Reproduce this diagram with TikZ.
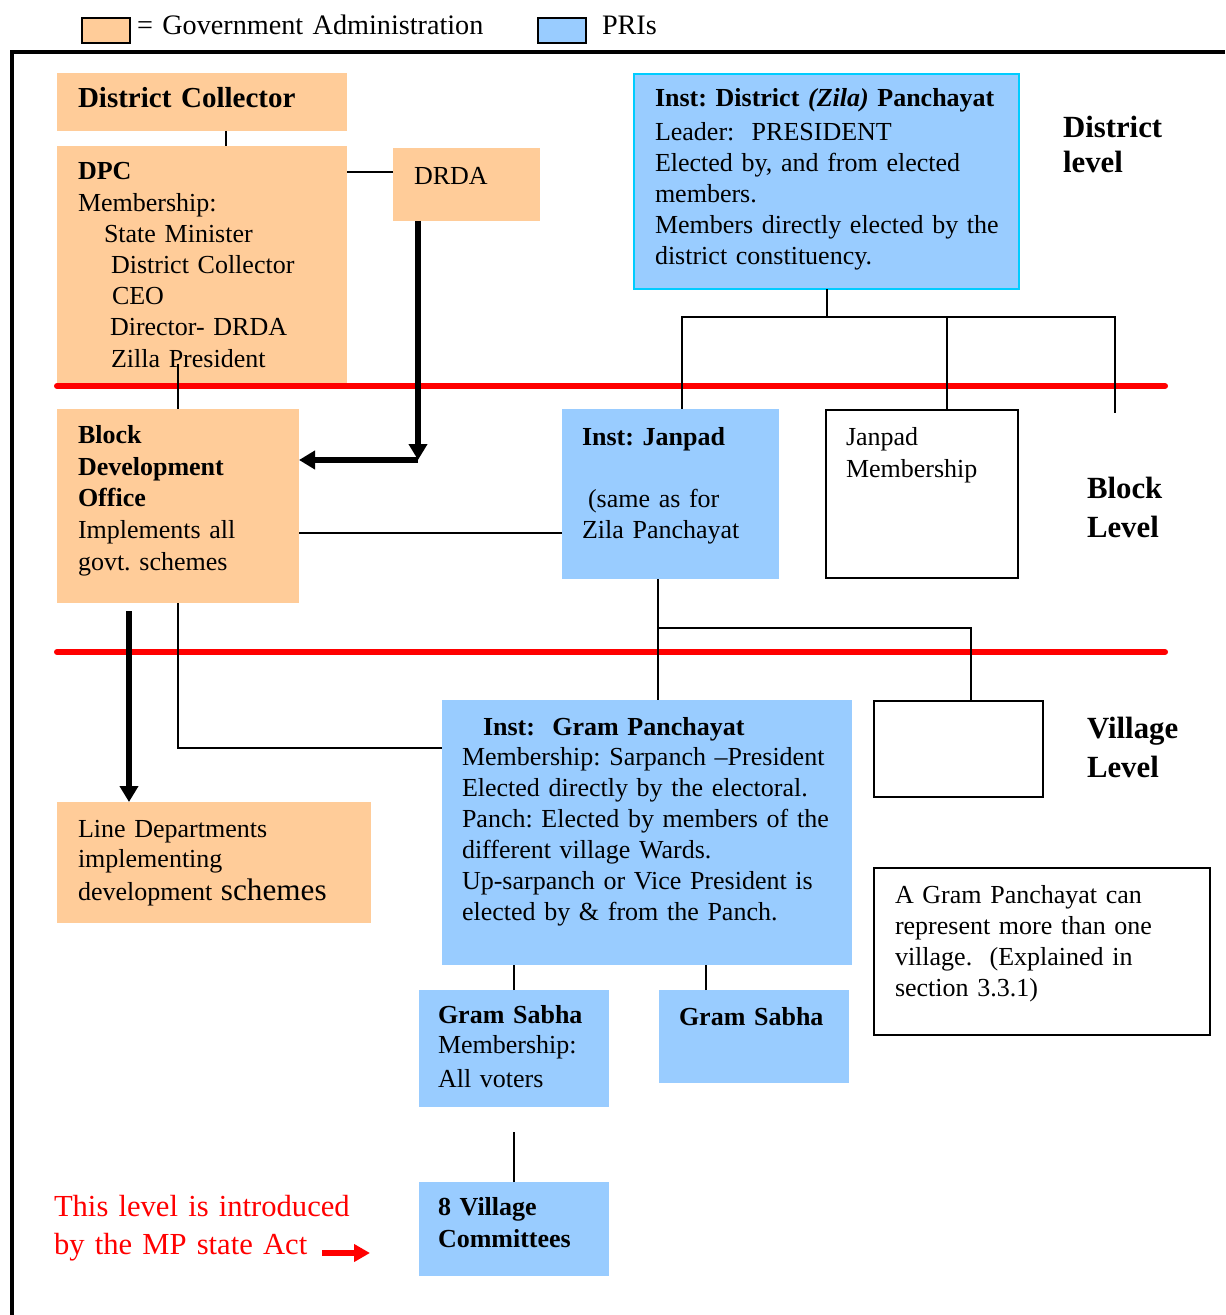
\documentclass[tikz,border=0pt]{standalone}
\usepackage{fontspec}
\setmainfont{Liberation Serif}
\usetikzlibrary{arrows.meta}
\definecolor{gov}{RGB}{255,204,153}
\definecolor{pri}{RGB}{153,204,255}
\definecolor{cyanb}{RGB}{0,204,255}
\newcommand\bodyf{\fontsize{13}{15.6}\selectfont}
\newcommand\hdf{\fontsize{14.5}{17}\selectfont}
\newcommand\lvf{\fontsize{15.4}{19.5}\selectfont}
\newcommand\legf{\fontsize{14.1}{17}\selectfont}
\frenchspacing
\begin{document}
\frenchspacing
\begin{tikzpicture}[x=0.5pt,y=-0.5pt,
  box/.style={rectangle, anchor=north west, inner sep=0pt, outer sep=0pt},
  govbox/.style={box, fill=gov},
  pribox/.style={box, fill=pri},
  wbox/.style={box, draw=black, line width=0.9pt, fill=white},
  txt/.style={anchor=base west, inner sep=0pt, outer sep=0pt, text width=300pt, align=left, font=\bodyf},
  conn/.style={line width=1pt, black},
  thickarrow/.style={line width=2.6pt, black, -{Triangle[width=9pt,length=8pt]}},
  redline/.style={red, line width=3pt, line cap=round},
]
\useasboundingbox (0,0) rectangle (1225,1315);

% legend
\node[box, draw=black, line width=1pt, fill=gov, minimum width=24pt, minimum height=12.5pt] (lg1) at (82,18) {};
\node[txt, font=\legf] (lg1t) at (137,35) {= Government Administration};
\node[box, draw=black, line width=1pt, fill=pri, minimum width=24pt, minimum height=12.5pt] (lg2) at (538,18) {};
\node[txt, font=\legf] (lg2t) at (602,35) {PRIs};

% frame
\draw[line width=2pt] (11.5,1315) -- (11.5,52) -- (1225,52);

% boxes
\node[govbox, minimum width=145pt, minimum height=29pt] (dc) at (57,73) {};
\node[govbox, minimum width=145pt, minimum height=119pt] (dpc) at (57,146) {};
\node[govbox, minimum width=73.5pt, minimum height=36.5pt] (drda) at (393,148) {};
\node[pribox, draw=cyanb, line width=1pt, minimum width=192.5pt, minimum height=107.5pt] (dp) at (634,74) {};
\node[govbox, minimum width=121pt, minimum height=97pt] (bdo) at (57,409) {};
\node[pribox, minimum width=108.5pt, minimum height=85pt] (jan) at (562,409) {};
\node[wbox, minimum width=96pt, minimum height=84pt] (jm) at (826,410) {};
\node[wbox, minimum width=84.5pt, minimum height=48pt] (wb) at (874,701) {};
\node[pribox, minimum width=205pt, minimum height=132.5pt] (gp) at (442,700) {};
\node[govbox, minimum width=157pt, minimum height=60.5pt] (ld) at (57,802) {};
\node[wbox, minimum width=168pt, minimum height=83.5pt] (note) at (874,868) {};
\node[pribox, minimum width=95pt, minimum height=58.5pt] (gs1) at (419,990) {};
\node[pribox, minimum width=95pt, minimum height=46.5pt] (gs2) at (659,990) {};
\node[pribox, minimum width=95pt, minimum height=47pt] (vc) at (419,1182) {};

% level separators
\draw[redline] (57,386) -- (1165,386);
\draw[redline] (57,652) -- (1165,652);

% connectors
\draw[conn] ([xshift=12pt]dc.south) -- ([xshift=12pt]dpc.north);
\draw[conn] ([yshift=6.25pt]drda.west) -- ([yshift=6.25pt]drda.west -| dpc.east);
\coordinate (corner) at (418,460);
\draw[thickarrow] ([xshift=-24.25pt]drda.south) -- (corner);
\draw[thickarrow] (corner) -- (corner -| bdo.east);
\coordinate (zp) at (178,364);
\draw[conn] (zp) -- (bdo.north);
\draw[conn] ([yshift=-13.5pt]bdo.east) -- ([yshift=-13.5pt]bdo.east -| jan.west);
\coordinate (tbar) at (826.5,317);
\coordinate (tfree) at (1115,413);
\draw[conn] (dp.south) -- (tbar);
\draw[conn] ([xshift=5.75pt]jan.north) |- (tfree |- tbar) -- (tfree);
\draw[conn] ([xshift=12.5pt]jm.north) -- ([xshift=12.5pt]jm.north |- tbar);
\draw[conn] ([xshift=-6.25pt]jan.south) -- ([xshift=-6.25pt]jan.south |- gp.north);
\coordinate (jbr) at (658,628);
\draw[conn] (jbr) -| ([xshift=6.25pt]wb.north);
\draw[conn] (bdo.south) |- ([yshift=42.25pt]gp.west);
\coordinate (ldtop) at ([xshift=-42.5pt]ld.north);
\coordinate (bdob) at ([yshift=-4pt]bdo.south);
\draw[thickarrow] (ldtop |- bdob) -- (ldtop);
\draw[conn] (gs1.north) -- (gs1.north |- gp.south);
\draw[conn] ([xshift=-24pt]gs2.north) -- ([xshift=-24pt]gs2.north |- gp.south);
\draw[conn] (vc.north) -- ++(0,-50);
\coordinate (ra) at (322,1253);
\draw[red, line width=3pt, -{Triangle[width=8.5pt,length=8pt]}] (ra) -- ++(48,0);

% texts
\node[txt, font=\hdf\bfseries] (dct) at (78,108) {District Collector};
\node[txt] (dpct) at (78,180) {\textbf{DPC}\\Membership:\\\hspace*{13pt}State Minister\\\hspace*{16.5pt}District Collector\\\hspace*{17pt}CEO\\\hspace*{16pt}Director- DRDA\\\hspace*{16.5pt}Zilla President};
\node[txt] (drdat) at (414,185) {DRDA};
\node[txt, font=\fontsize{13}{15.6}\selectfont] (dpt) at (655,107) {\textbf{Inst: District \textit{(Zila)} Panchayat}\\[1pt]Leader:\ \ PRESIDENT\\Elected by, and from elected\\members.\\Members directly elected by the\\district constituency.};
\node[txt, font=\fontsize{15.4}{17.5}\selectfont\bfseries] (dlv) at (1063,138) {District\\level};
\node[txt, font=\fontsize{13}{15.75}\selectfont] (bdot) at (78,444) {\textbf{Block}\\\textbf{Development}\\\textbf{Office}\\Implements all\\govt. schemes};
\node[txt] (jant) at (582,445) {\textbf{Inst: Janpad}\\[15.5pt]\hspace*{3pt}(same as for\\Zila Panchayat};
\node[txt, font=\fontsize{13}{16}\selectfont] (jmt) at (846,445) {Janpad\\Membership};
\node[txt, font=\lvf\bfseries] (blv) at (1087,498) {Block\\Level};
\node[txt, font=\lvf\bfseries] (vlv) at (1087,738) {Village\\Level};
\node[txt, font=\fontsize{13}{15.5}\selectfont] (gpt) at (462,735) {\hspace*{10.5pt}\textbf{Inst:\ \ Gram Panchayat}\\[-0.5pt]Membership: Sarpanch \textendash President\\Elected directly by the electoral.\\Panch: Elected by members of the\\different village Wards.\\Up-sarpanch or Vice President is\\elected by \& from the Panch.};
\node[txt, font=\fontsize{13}{15}\selectfont] (ldt) at (78,837) {Line Departments\\implementing\\[1.5pt]development {\fontsize{15.6}{16}\selectfont schemes}};
\node[txt, font=\fontsize{13}{15.5}\selectfont] (notet) at (895,903) {A Gram Panchayat can\\represent more than one\\village.\ \ (Explained in\\section 3.3.1)};
\node[txt, font=\fontsize{13}{15}\selectfont] (gs1t) at (438,1023) {\textbf{Gram Sabha}\\Membership:\\[2pt]All voters};
\node[txt] (gs2t) at (679,1025) {\textbf{Gram Sabha}};
\node[txt, font=\fontsize{13}{16}\selectfont\bfseries] (vct) at (438,1215) {8 Village\\Committees};
\node[txt, font=\fontsize{15.3}{19}\selectfont, text=red] (redt) at (54,1216) {This level is introduced\\by the MP state Act};
\end{tikzpicture}
\end{document}
